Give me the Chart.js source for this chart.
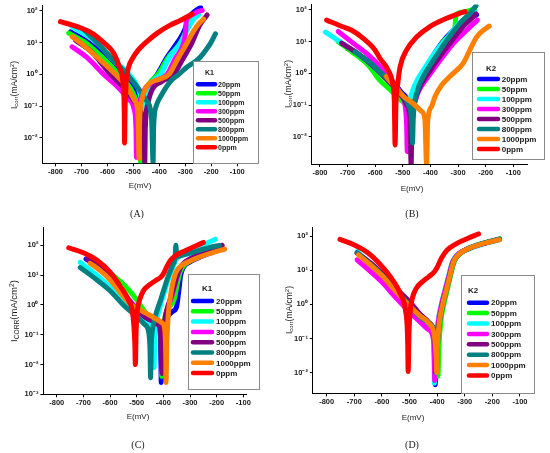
<!DOCTYPE html>
<html>
<head>
<meta charset="utf-8">
<script src="https://cdn.jsdelivr.net/npm/chart.js@4.4.1/dist/chart.umd.min.js"></script>
<style>
  body { margin: 0; background: #fff; }
  #wrap { position: relative; width: 550px; height: 453px; overflow: hidden; font-family: "Liberation Sans", Arial, sans-serif; color: #1a1a1a; }
  canvas { position: absolute; }
  .xt { position: absolute; font-size: 8px; transform: translate(-50%, -50%); white-space: nowrap; }
  .yt { position: absolute; font-size: 8.5px; transform: translate(-50%, -50%) rotate(-90deg); white-space: nowrap; }
  .yt sub { font-size: 70%; vertical-align: -0.25em; }
  .yt sup { font-size: 70%; vertical-align: 0.5em; }
  .cap { position: absolute; font-family: "Liberation Serif", "Times New Roman", serif; font-size: 10px; transform: translate(-50%, -50%); }
</style>
</head>
<body>
<div id="wrap">
  <canvas id="cA" width="275" height="226" style="left:0;top:0"></canvas>
  <canvas id="cB" width="275" height="226" style="left:275px;top:0"></canvas>
  <canvas id="cC" width="275" height="227" style="left:0;top:226px"></canvas>
  <canvas id="cD" width="275" height="227" style="left:275px;top:226px"></canvas>

  <div class="yt" style="left:14px;top:85px">I<sub>corr</sub>(mA/cm<sup>2</sup>)</div>
  <div class="yt" style="left:288px;top:84px">I<sub>corr</sub>(mA/cm<sup>2</sup>)</div>
  <div class="yt" style="left:14px;top:311px;font-size:9.5px">I<sub>CORR</sub>(mA/cm<sup>2</sup>)</div>
  <div class="yt" style="left:289px;top:310px">I<sub>corr</sub>(mA/cm<sup>2</sup>)</div>

  <div class="xt" style="left:140px;top:185px">E(mV)</div>
  <div class="xt" style="left:412px;top:188px">E(mV)</div>
  <div class="xt" style="left:138px;top:416px">E(mV)</div>
  <div class="xt" style="left:413px;top:417px">E(mV)</div>

  <div class="cap" style="left:137px;top:213px">(A)</div>
  <div class="cap" style="left:412px;top:213px">(B)</div>
  <div class="cap" style="left:138px;top:444px">(C)</div>
  <div class="cap" style="left:412px;top:444px">(D)</div>
</div>
<script>
// series names and colours (same in all four panels)
const seriesLabels = ["20ppm", "50ppm", "100ppm", "300ppm", "500ppm", "800ppm", "1000ppm", "0ppm"];
const seriesColors = ["#0000ff", "#00ff00", "#00ffff", "#ff00ff", "#800080", "#008080", "#ff8000", "#ff0000"];

// tick values
const xTicks = [-800, -700, -600, -500, -400, -300, -200, -100];
const yTicksAB = [0.01, 0.1, 1, 10, 100];
const yTicksC = [0.001, 0.01, 0.1, 1, 10, 100];
const yTicksD = [0.01, 0.1, 1, 10, 100];
const yTickText = ["10⁻³", "10⁻²", "10⁻¹", "10⁰", "10¹", "10²"];

// (A) K1 : [E mV, I mA/cm2]
const a20 = [[-742,22],[-672,10],[-600,3],[-543,1],[-500,0.35],[-478,0.12],[-470,0.02],[-468,0.0016],[-466,0.03],[-455,0.2],[-435,0.5],[-408,1],[-370,3.5],[-331,10],[-300,28],[-290,55],[-265,95],[-241,130]];
const a50 = [[-749,20],[-684,10],[-620,3.5],[-556,1],[-510,0.35],[-484,0.12],[-474,0.03],[-472,0.0016],[-470,0.03],[-460,0.2],[-440,0.5],[-405,1],[-365,3.5],[-318,10],[-296,25],[-288,45],[-272,65],[-262,80]];
const a100 = [[-736,32],[-640,10],[-580,3],[-517,1],[-480,0.35],[-466,0.12],[-461,0.07],[-457,0.12],[-445,0.3],[-425,0.6],[-395,1],[-360,3.5],[-318,10],[-290,28],[-268,55],[-248,75]];
const a300 = [[-736,7.4],[-680,3.5],[-614,1],[-560,0.4],[-520,0.17],[-497,0.08],[-490,0.02],[-488,0.0024],[-486,0.02],[-478,0.1],[-460,0.3],[-420,0.6],[-370,1],[-340,3],[-306,10],[-299,22],[-296,50],[-280,70],[-258,90],[-235,105]];
const a500 = [[-723,12],[-660,5],[-588,1],[-540,0.4],[-500,0.15],[-470,0.06],[-458,0.01],[-456,0.0016],[-454,0.02],[-446,0.1],[-430,0.3],[-390,0.6],[-344,1],[-310,3],[-274,10],[-245,35],[-225,60],[-216,75]];
const a800 = [[-691,26],[-640,10],[-580,3],[-524,1],[-490,0.45],[-450,0.15],[-430,0.04],[-424,0.0016],[-422,0.02],[-412,0.1],[-395,0.2],[-357,0.6],[-325,1],[-293,1.7],[-260,2.6],[-241,3.6],[-220,6],[-203,9.5],[-184,19]];
const a1000 = [[-736,15.5],[-704,10],[-640,3.5],[-569,1],[-525,0.4],[-495,0.15],[-482,0.05],[-478,0.0022],[-476,0.03],[-468,0.15],[-450,0.4],[-400,0.7],[-363,1],[-330,3],[-293,10],[-270,22],[-245,42],[-229,55]];
const a0 = [[-781,46],[-716,32],[-660,20],[-614,10],[-575,4.6],[-552,1.5],[-540,0.5],[-535,0.06],[-534,0.0068],[-532,0.08],[-528,0.5],[-520,1.5],[-505,3],[-480,6],[-447,11],[-408,20],[-360,35],[-320,50],[-274,80]];

// (B) K2
const b20 = [[-700,6],[-640,3],[-590,1.6],[-545,0.6],[-505,0.25],[-480,0.1],[-473,0.03],[-470,0.03],[-468,0.14],[-450,0.38],[-414,1.6],[-377,5.5],[-341,14],[-293,34],[-233,70]];
const b50 = [[-734,10],[-680,4.5],[-625,1.8],[-583,0.6],[-545,0.3],[-510,0.15],[-485,0.08],[-478,0.04],[-474,0.1],[-455,0.35],[-420,1.4],[-380,4.5],[-345,12],[-311,30],[-309,50],[-307,69],[-285,85],[-260,95],[-240,105]];
const b100 = [[-780,20],[-720,9],[-660,4],[-601,1.5],[-555,0.6],[-515,0.25],[-490,0.12],[-480,0.06],[-476,0.12],[-458,0.4],[-420,1.5],[-380,5],[-340,13],[-300,35],[-265,60],[-238,85]];
const b300 = [[-734,21],[-680,9],[-620,3.5],[-575,1.4],[-540,0.6],[-510,0.25],[-492,0.1],[-486,0.02],[-484,0.0034],[-481,0.03],[-470,0.07],[-462,0.089],[-444,0.26],[-408,0.79],[-365,2.6],[-317,8.9],[-269,23],[-230,48]];
const b500 = [[-722,9],[-660,4],[-601,1.5],[-555,0.6],[-515,0.25],[-485,0.1],[-474,0.03],[-470,0.0013],[-467,0.03],[-458,0.12],[-440,0.35],[-405,1.1],[-365,3.5],[-325,10],[-285,28],[-250,55],[-235,75]];
const b800 = [[-673,4.8],[-620,2.2],[-577,1],[-540,0.5],[-505,0.22],[-480,0.1],[-468,0.03],[-465,0.0063],[-462,0.04],[-450,0.23],[-426,0.79],[-389,2.6],[-341,11],[-293,38],[-257,79],[-235,134]];
const b1000 = [[-560,0.8],[-534,0.43],[-498,0.19],[-462,0.11],[-432,0.063],[-420,0.034],[-414,0.0013],[-410,0.03],[-396,0.089],[-383,0.19],[-359,0.43],[-323,0.9],[-281,2.1],[-257,5.5],[-233,14],[-208,23],[-187,31]];
const b0 = [[-776,48],[-720,30],[-685,23],[-640,12],[-601,5.5],[-583,3],[-553,1.26],[-537,0.49],[-531,0.14],[-528,0.0055],[-525,0.1],[-518,0.5],[-510,1.6],[-486,5.5],[-450,14],[-402,30],[-341,55],[-293,79],[-275,89]];

// (C) K1
const c20 = [[-690,35],[-640,17],[-590,6],[-540,1.8],[-500,0.65],[-460,0.32],[-420,0.2],[-411,0.08],[-409,0.01],[-408,0.0025],[-404,0.05],[-398,0.2],[-385,0.4],[-365,0.6],[-350,0.9],[-342,3],[-335,10],[-325,18],[-300,28],[-250,45],[-200,65],[-175,75]];
const c50 = [[-680,35],[-640,22],[-590,10],[-540,4],[-500,1.5],[-470,0.6],[-440,0.35],[-415,0.2],[-408,0.05],[-406,0.004],[-403,0.05],[-396,0.3],[-380,0.8],[-360,1.5],[-348,5],[-338,12],[-325,20],[-300,30],[-260,45],[-220,62],[-185,75]];
const c100 = [[-712,27],[-650,10],[-600,4],[-550,1.5],[-520,0.7],[-480,0.35],[-450,0.2],[-440,0.1],[-436,0.03],[-435,0.008],[-432,0.08],[-425,0.3],[-410,1],[-395,3],[-380,8],[-365,18],[-350,35],[-320,55],[-280,80],[-240,115],[-205,160]];
const c300 = [[-685,38],[-640,18],[-590,6.5],[-540,2],[-500,0.75],[-460,0.36],[-420,0.22],[-406,0.06],[-403,0.006],[-400,0.06],[-393,0.3],[-383,0.8],[-368,2],[-354,6],[-344,12],[-330,22],[-300,35],[-260,50],[-220,70],[-180,100]];
const c500 = [[-685,35],[-640,18],[-590,6],[-540,1.8],[-500,0.7],[-460,0.35],[-420,0.22],[-410,0.1],[-407,0.01],[-405,0.005],[-402,0.05],[-395,0.3],[-385,0.8],[-370,2],[-355,6],[-345,12],[-330,22],[-300,35],[-260,50],[-220,70],[-180,100]];
const c800 = [[-712,18],[-650,7],[-600,3],[-550,1],[-500,0.4],[-470,0.22],[-455,0.12],[-450,0.03],[-448,0.0036],[-445,0.05],[-438,0.2],[-425,0.6],[-410,1.5],[-395,4],[-380,10],[-365,22],[-356,40],[-353,100],[-350,40],[-335,45],[-300,55],[-260,70],[-225,85],[-190,100]];
const c1000 = [[-675,25],[-640,15],[-600,7],[-560,2.5],[-520,1],[-490,0.7],[-460,0.5],[-430,0.35],[-405,0.25],[-395,0.15],[-391,0.02],[-390,0.0025],[-387,0.05],[-383,0.3],[-378,1],[-370,3],[-360,8],[-350,14],[-335,20],[-300,30],[-260,42],[-220,55],[-170,75]];
const c0 = [[-755,83],[-700,56],[-650,32],[-600,12.6],[-560,4],[-530,1.4],[-515,0.5],[-507,0.05],[-505,0.01],[-502,0.15],[-498,0.6],[-490,1.4],[-475,3],[-455,4.5],[-430,6.5],[-410,8.5],[-400,11],[-390,17],[-375,30],[-355,45],[-320,65],[-285,90],[-250,125]];

// (D) K2
const d20 = [[-688,32],[-640,14],[-600,7],[-550,2.5],[-500,0.9],[-460,0.4],[-425,0.25],[-412,0.1],[-409,0.02],[-407,0.0045],[-403,0.05],[-395,0.3],[-383,1],[-368,3],[-355,8],[-343,18],[-322,30],[-290,42],[-250,55],[-210,68],[-175,80]];
const d50 = [[-688,32],[-640,14],[-600,7],[-550,2.5],[-500,0.9],[-460,0.4],[-420,0.22],[-402,0.1],[-399,0.02],[-397,0.008],[-394,0.05],[-387,0.3],[-376,1],[-362,3],[-350,8],[-338,18],[-318,30],[-288,42],[-248,56],[-208,69],[-173,82]];
const d100 = [[-690,35],[-640,15],[-600,7.5],[-550,2.6],[-500,0.95],[-460,0.42],[-428,0.26],[-414,0.1],[-411,0.02],[-410,0.005],[-406,0.05],[-397,0.3],[-385,1],[-370,3],[-356,8],[-344,18],[-323,29],[-291,40],[-251,52],[-211,65],[-176,76]];
const d300 = [[-690,20],[-640,9],[-600,4.5],[-550,1.6],[-500,0.6],[-460,0.3],[-430,0.18],[-412,0.08],[-410,0.02],[-409,0.006],[-405,0.05],[-396,0.3],[-384,1],[-369,3],[-355,8],[-343,18],[-322,30],[-290,42],[-250,55],[-210,68],[-175,80]];
const d500 = [[-690,32],[-640,16],[-600,8],[-550,3],[-500,1.2],[-460,0.5],[-430,0.3],[-410,0.12],[-406,0.03],[-405,0.01],[-401,0.06],[-393,0.3],[-381,1],[-366,3],[-353,8],[-341,18],[-320,30],[-289,42],[-249,55],[-209,68],[-174,80]];
const d800 = [[-690,32],[-640,14.5],[-600,7.2],[-550,2.6],[-500,0.95],[-460,0.42],[-425,0.26],[-407,0.1],[-404,0.03],[-403,0.01],[-399,0.06],[-391,0.3],[-379,1],[-364,3],[-351,8],[-339,18],[-319,30],[-289,43],[-249,57],[-209,70],[-174,83]];
const d1000 = [[-685,28],[-640,14],[-600,7],[-550,2.4],[-500,0.9],[-460,0.45],[-430,0.28],[-410,0.12],[-404,0.03],[-402,0.01],[-399,0.06],[-392,0.3],[-380,1],[-365,3],[-352,8],[-340,18],[-320,30],[-290,42],[-250,55],[-210,67],[-175,78]];
const d0 = [[-752,80],[-700,55],[-650,32],[-600,13],[-560,5],[-530,1.8],[-515,0.7],[-507,0.1],[-505,0.011],[-502,0.15],[-498,0.6],[-490,1.5],[-475,3],[-455,4.5],[-430,6.5],[-410,9],[-398,13],[-385,22],[-365,38],[-330,60],[-290,85],[-250,115]];

// legend drawn as a framed box inside the plot, like the original
const boxLegend = {
  id: "boxLegend",
  afterDraw(chart, args, o) {
    const ctx = chart.ctx;
    ctx.save();
    ctx.fillStyle = "#fff";
    ctx.fillRect(o.x, o.y, o.w, o.h);
    ctx.strokeStyle = "#8a8a8a";
    ctx.lineWidth = 1;
    ctx.strokeRect(o.x + 0.5, o.y + 0.5, o.w, o.h);
    ctx.font = "bold " + o.size + 'px "Liberation Sans", Arial, sans-serif';
    ctx.textBaseline = "middle";
    ctx.fillStyle = "#1a1a1a";
    ctx.fillText(o.title, o.titleX, o.titleY);
    chart.data.datasets.forEach((ds, i) => {
      const y = o.row0 + i * o.gap;
      ctx.strokeStyle = ds.borderColor;
      ctx.lineWidth = 4.5;
      ctx.lineCap = "round";
      ctx.beginPath();
      ctx.moveTo(o.sw0, y);
      ctx.lineTo(o.sw1, y);
      ctx.stroke();
      ctx.fillStyle = "#1a1a1a";
      ctx.fillText(ds.label, o.textX, y + 0.5);
    });
    ctx.restore();
  }
};

const tickFont = { family: '"Liberation Sans", Arial, sans-serif', size: 7.5, weight: "bold" };

function makeChart(id, series, lay) {
  const yW = 30, xH = 14;
  const cv = document.getElementById(id);
  return new Chart(cv, {
    type: "line",
    data: {
      datasets: series.map((pts, i) => ({
        label: seriesLabels[i],
        data: pts.map((p) => ({ x: p[0], y: p[1] })),
        borderColor: seriesColors[i],
        borderWidth: 5,
        borderCapStyle: "round",
        borderJoinStyle: "round",
        pointRadius: 0,
        cubicInterpolationMode: "monotone",
        fill: false,
        order: 7 - i,
      })),
    },
    options: {
      responsive: false,
      animation: false,
      events: [],
      layout: {
        padding: { left: lay.l - yW, right: cv.width - lay.r, top: lay.t, bottom: cv.height - lay.b - xH },
      },
      plugins: { legend: { display: false }, tooltip: { enabled: false }, boxLegend: lay.legend },
      scales: {
        x: {
          type: "linear",
          min: lay.xMin,
          max: lay.xMax,
          afterBuildTicks: (s) => { s.ticks = xTicks.map((v) => ({ value: v })); },
          afterFit: (s) => { s.height = xH; s.paddingLeft = 0; s.paddingRight = 0; },
          ticks: { font: tickFont, color: "#1a1a1a", padding: 1, maxRotation: 0, autoSkip: false, callback: (v) => String(v) },
          grid: { drawOnChartArea: false, tickLength: 3, color: "#000" },
          border: { color: "#000", width: 1 },
        },
        y: {
          type: "logarithmic",
          min: lay.yMin,
          max: lay.yMax,
          afterBuildTicks: (s) => { s.ticks = lay.yTicks.map((v) => ({ value: v })); },
          afterFit: (s) => { s.width = yW; s.paddingTop = 0; s.paddingBottom = 0; },
          ticks: { font: tickFont, color: "#1a1a1a", padding: 2, callback: (v) => yTickText[Math.round(Math.log10(v)) + 3] },
          grid: { drawOnChartArea: false, tickLength: 3, color: "#000" },
          border: { color: "#000", width: 1 },
        },
      },
    },
    plugins: [boxLegend],
  });
}

makeChart("cA", [a20, a50, a100, a300, a500, a800, a1000, a0], {
  l: 42.5, r: 250.2, t: 5.4, b: 163.3, xMin: -850, xMax: -50, yMin: 0.00156, yMax: 150, yTicks: yTicksAB,
  legend: { x: 193, y: 61, w: 65, h: 102, size: 7, title: "K1", titleX: 205, titleY: 73, row0: 84.3, gap: 9, sw0: 198, sw1: 215, textX: 218 },
});
makeChart("cB", [b20, b50, b100, b300, b500, b800, b1000, b0], {
  l: 36.7, r: 252.1, t: 4.4, b: 164, xMin: -830, xMax: -50, yMin: 0.00138, yMax: 150, yTicks: yTicksAB,
  legend: { x: 197, y: 52, w: 72, h: 107, size: 8, title: "K2", titleX: 211, titleY: 69, row0: 79, gap: 10, sw0: 204, sw1: 223, textX: 226.7 },
});
makeChart("cC", [c20, c50, c100, c300, c500, c800, c1000, c0], {
  l: 43.4, r: 246, t: 1.4, b: 168.3, xMin: -850, xMax: -90, yMin: 0.001, yMax: 400, yTicks: yTicksC,
  legend: { x: 188, y: 48, w: 71, h: 115, size: 8, title: "K1", titleX: 202, titleY: 63, row0: 75, gap: 10.3, sw0: 193, sw1: 212, textX: 216 },
});
makeChart("cD", [d20, d50, d100, d300, d500, d800, d1000, d0], {
  l: 37.9, r: 250.5, t: 1.3, b: 167.4, xMin: -850, xMax: -80, yMin: 0.0025, yMax: 180, yTicks: yTicksD,
  legend: { x: 186, y: 49, w: 73, h: 118, size: 8, title: "K2", titleX: 193, titleY: 65, row0: 76.7, gap: 10.4, sw0: 194, sw1: 212, textX: 216 },
});
</script>
</body>
</html>
